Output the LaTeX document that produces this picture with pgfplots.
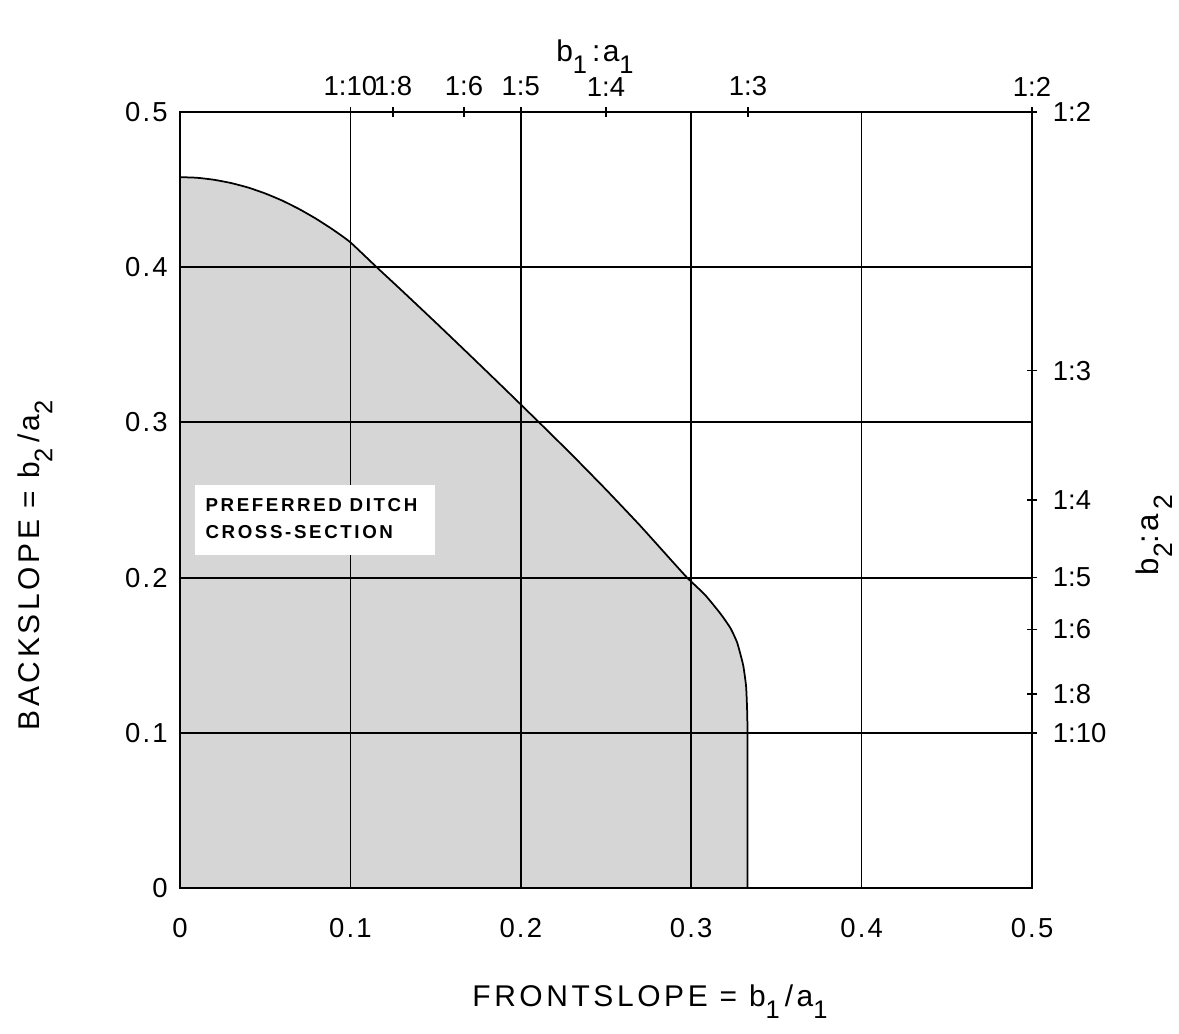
\documentclass[border=0pt]{standalone}
\usepackage{fontspec}
\setmainfont{Liberation Sans}
\newfontfamily\spaced{Liberation Sans}[LetterSpace=8]
\newfontfamily\labfont{Liberation Sans}[LetterSpace=12]
\newfontfamily\boxfont{Liberation Sans}[LetterSpace=14]
\usepackage{pgfplots}
\pgfplotsset{compat=1.18}
\newcommand{\sub}[1]{\raisebox{-0.8ex}{\fontsize{0.85em}{1em}\selectfont #1}}

\begin{document}
\begin{tikzpicture}
\begin{axis}[
    name=main,
    scale only axis,
    width=12cm, height=10.93cm,
    xmin=0, xmax=0.5,
    ymin=0, ymax=0.5,
    xtick={0,0.1,0.2,0.3,0.4,0.5},
    ytick={0,0.1,0.2,0.3,0.4,0.5},
    xticklabels={0,0.1,0.2,0.3,0.4,0.5},
    yticklabels={0,0.1,0.2,0.3,0.4,0.5},
    xtick pos=left, ytick pos=left,
    major tick length=0pt,
    grid=major,
    x grid style={black, line width=0.6pt},
    y grid style={black, line width=0.8pt},
    axis line style={line width=0.8pt},
    tick label style={font=\spaced\fontsize{11}{13}\selectfont},
    xticklabel style={yshift=-0.3cm},
    yticklabel style={xshift=-0.05cm},
    /pgf/number format/assume math mode=true,
    axis on top,
]
% preferred region
\addplot[draw=black, line width=0.7pt, fill=black!16, smooth, tension=0.3] coordinates {
(0,0.458) (0.01,0.4576) (0.02,0.4563) (0.03,0.4542) (0.04,0.4513)
(0.05,0.4475) (0.06,0.4429) (0.07,0.4374) (0.08,0.4311) (0.09,0.424)
(0.1,0.416) (0.1154,0.4) (0.13,0.3851) (0.15,0.3644) (0.17,0.3434)
(0.19,0.3222) (0.211,0.2997) (0.23,0.2791) (0.25,0.2567) (0.27,0.2335)
(0.29,0.2091) (0.298,0.1995) (0.308,0.189) (0.317,0.177) (0.323,0.1675)
(0.327,0.158) (0.3305,0.1435) (0.3322,0.13) (0.3328,0.115) (0.333,0.1)
(0.333,0)
} \closedcycle;
\end{axis}

\begin{axis}[
    scale only axis,
    width=12cm, height=10.93cm,
    xmin=0, xmax=0.5,
    ymin=0, ymax=0.5,
    axis x line*=top, axis y line*=right,
    xtick={0.1,0.125,0.166667,0.2,0.25,0.333333,0.5},
    xticklabels={1:10,1:8,1:6,1:5,1:4,1:3,1:2},
    ytick={0.1,0.125,0.166667,0.2,0.25,0.333333,0.5},
    yticklabels={1:10,1:8,1:6,1:5,1:4,1:3,1:2},
    tick align=center,
    major tick length=0.14cm,
    tick style={black, line width=0.6pt},
    axis line style={line width=0.8pt},
    tick label style={font=\fontsize{11}{13}\selectfont},
    xticklabel style={yshift=0.03cm},
    yticklabel style={xshift=0.1cm},
    clip=false,
]
\fill[white] (axis cs:0.0088,0.2146) rectangle (axis cs:0.1496,0.2597);
\node[anchor=west, align=left, inner sep=0pt,
      font=\boxfont\bfseries\fontsize{7.5}{10.8}\selectfont]
  at (axis cs:0.0147,0.2381) {PREFERRED DITCH\\CROSS-SECTION};
\node[font=\spaced\fontsize{12}{14}\selectfont]
  at ([yshift=0.78cm]axis cs:0.2435,0.5) {b\sub{1}\,:a\sub{1}};
\node[rotate=90, font=\spaced\fontsize{12.5}{14}\selectfont]
  at ([xshift=1.72cm]axis cs:0.5,0.2275) {b\sub{2}:a\,\sub{2}};
\node[rotate=90, font=\labfont\fontsize{12}{14}\selectfont]
  at ([xshift=-2.04cm]axis cs:0,0.208) {BACKSLOPE = b\sub{2}\,/a\sub{2}};
\node[font=\labfont\fontsize{12}{14}\selectfont]
  at ([yshift=-1.6cm]axis cs:0.2758,0) {FRONTSLOPE = b\sub{1}\,/a\sub{1}};
\end{axis}

\pgfresetboundingbox
\path ([shift={(-2.535cm,-2.056cm)}]main.south west)
  rectangle ([shift={(2.07cm,1.577cm)}]main.north east);
\end{tikzpicture}
\end{document}
